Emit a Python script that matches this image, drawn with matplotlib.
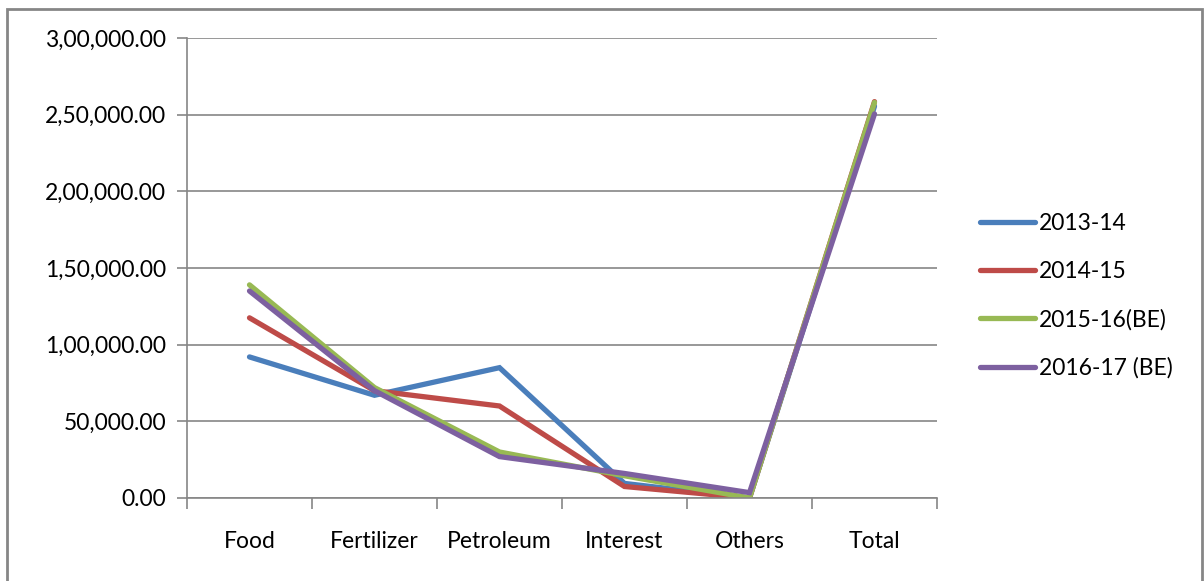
import matplotlib
matplotlib.use("Agg")
from matplotlib import pyplot as plt
from matplotlib.patches import Rectangle
from matplotlib.ticker import FuncFormatter, FixedLocator
import numpy as np

categories = ["Food", "Fertilizer", "Petroleum", "Interest", "Others", "Total"]
series_names = ["2013-14", "2014-15", "2015-16(BE)", "2016-17 (BE)"]
v_2013 = [92000, 67000, 85000, 9500, 0, 255500]
v_2014 = [117500, 70000, 60000, 7500, 0, 258500]
v_2015 = [139000, 72000, 30000, 14500, 0, 258000]
v_2016 = [135000, 70000, 27000, 16000, 3500, 250500]
colors = ["#4A7EBB", "#BE4B48", "#98B954", "#7D60A0"]

plt.rcParams['font.family'] = ['Lato', 'DejaVu Sans']


def indian_fmt(v, pos=None):
    """format like 2,50,000.00"""
    s = "%d" % int(round(v))
    if len(s) > 3:
        head, tail = s[:-3], s[-3:]
        parts = []
        while len(head) > 2:
            parts.insert(0, head[-2:])
            head = head[:-2]
        if head:
            parts.insert(0, head)
        s = ",".join(parts) + "," + tail
    return s + ".00"


fig = plt.figure(figsize=(12.04, 5.81), dpi=100)
# outer chart border (bottom edge falls outside the image)
fig.patches.append(Rectangle((6.5 / 1204, -0.05), 1195 / 1204, 0.05 + 572 / 581,
                             transform=fig.transFigure, fill=False,
                             edgecolor="#868686", linewidth=2))
ax = fig.add_axes([187 / 1204, 1 - 498 / 581, 750 / 1204, 460 / 581])

x = np.arange(len(categories))
for vals, name, c in zip([v_2013, v_2014, v_2015, v_2016], series_names, colors):
    ax.plot(x, vals, color=c, linewidth=3.8, label=name, solid_capstyle="round",
            solid_joinstyle="miter")

ax.set_xlim(-0.5, len(categories) - 0.5)
ax.set_ylim(0, 300000)
ax.yaxis.set_major_locator(FixedLocator(np.arange(0, 300001, 50000)))
ax.yaxis.set_major_formatter(FuncFormatter(indian_fmt))
ax.grid(axis="y", color="#868686", linewidth=1.2)
ax.set_axisbelow(True)

ax.set_xticks(x)
ax.set_xticklabels(categories)
ax.set_xticks(np.arange(-0.5, len(categories)), minor=True)
ax.tick_params(axis="x", which="major", length=0, pad=24, labelsize=16.5)
ax.tick_params(axis="x", which="minor", length=8, color="#868686", width=1.2, direction="out")
ax.tick_params(axis="y", length=7, color="#868686", width=1.2, pad=8, labelsize=16.5)

for s in ["top", "right"]:
    ax.spines[s].set_visible(False)
for s in ["left", "bottom"]:
    ax.spines[s].set_color("#868686")
    ax.spines[s].set_linewidth(1.2)

ax.legend(loc="center left", bbox_to_anchor=(1.03, 0.44), frameon=False, fontsize=16.5,
          handlelength=2.4, handletextpad=0.15, labelspacing=1.18)

fig.savefig("out.png", dpi=100)
